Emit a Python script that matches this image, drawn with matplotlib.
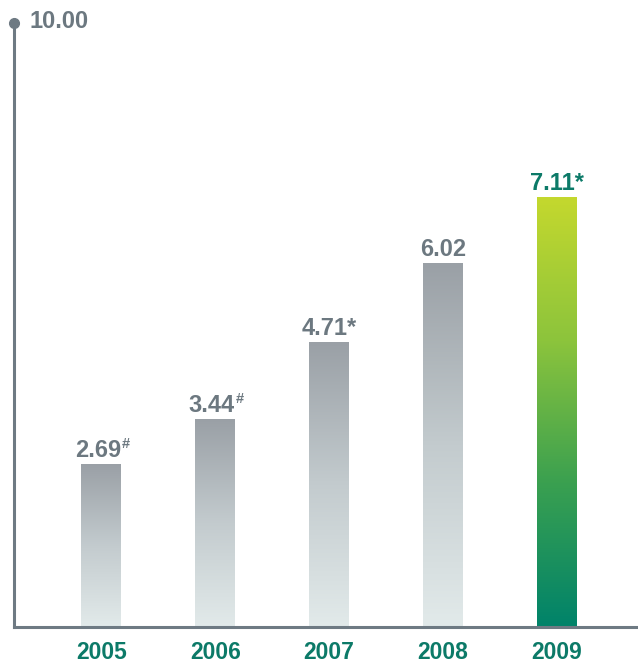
import numpy as np
import matplotlib
matplotlib.use("Agg")
import matplotlib.pyplot as plt
from matplotlib.colors import LinearSegmentedColormap
from matplotlib.transforms import offset_copy

plt.rcParams['font.family'] = ['Liberation Sans', 'DejaVu Sans']

# data
years = ['2005', '2006', '2007', '2008', '2009']
values = [2.69, 3.44, 4.71, 6.02, 7.11]
marks = ['#', '#', '*', '', '*']

axis_col = '#6e7a83'
text_gray = '#6c7880'
teal = '#0c7a68'

gray_cmap = LinearSegmentedColormap.from_list('g', ['#e2eaea', '#c3cbce', '#9aa0a6'])
green_cmap = LinearSegmentedColormap.from_list('gr', ['#00836a', '#3aa050', '#8cc43c', '#c4d82e'])

fig = plt.figure(figsize=(6.38, 6.64), dpi=100)
ax = fig.add_axes([14 / 638, 37 / 664, 624 / 638, 604 / 664])

x = np.arange(len(years))
width = 0.35
bars = ax.bar(x, values, width=width, color='none', edgecolor='none')

# vertical gradient in each bar
grad = np.linspace(0, 1, 256).reshape(-1, 1)
for i, b in enumerate(bars):
    cmap = green_cmap if i == len(bars) - 1 else gray_cmap
    x0, y0 = b.get_x(), b.get_y()
    ax.imshow(grad, cmap=cmap, origin='lower', aspect='auto',
              extent=[x0, x0 + b.get_width(), y0, y0 + b.get_height()], zorder=2)

ax.set_xlim(-0.768, 4.715)
ax.set_ylim(0, 10)

renderer = fig.canvas.get_renderer()
for i, (v, m) in enumerate(zip(values, marks)):
    col = teal if i == len(values) - 1 else text_gray
    if m == '#':
        # number, then a small raised # after it
        t = ax.text(i - 0.03, v + 0.12, f'{v:.2f}', ha='center', va='baseline',
                    fontsize=17, color=col, fontweight='bold')
        bb = t.get_window_extent(renderer)
        xr = ax.transData.inverted().transform((bb.x1, bb.y0))[0]
        tr = offset_copy(ax.transData, fig=fig, x=0.5, y=6.5, units='points')
        ax.text(xr, v + 0.12, '#', ha='left', va='baseline', fontsize=10.5,
                color=col, fontweight='bold', transform=tr)
    else:
        ax.text(i, v + 0.12, f'{v:.2f}{m}', ha='center', va='baseline', fontsize=17,
                color=col, fontweight='bold')

for s in ['top', 'right']:
    ax.spines[s].set_visible(False)
ax.spines['left'].set_color(axis_col)
ax.spines['bottom'].set_color(axis_col)
ax.spines['left'].set_linewidth(2.2)
ax.spines['bottom'].set_linewidth(2.2)

ax.set_yticks([])
ax.set_xticks(x)
ax.set_xticklabels(years, fontsize=16.5, color=teal, fontweight='bold')
ax.tick_params(axis='x', length=0, pad=10)

ax.plot([-0.768], [10], 'o', color=axis_col, markersize=7, clip_on=False, zorder=5)
ax.text(-0.628, 10.03, '10.00', ha='left', va='center', fontsize=17,
        color=text_gray, fontweight='bold')

fig.savefig('out.png', dpi=100)
